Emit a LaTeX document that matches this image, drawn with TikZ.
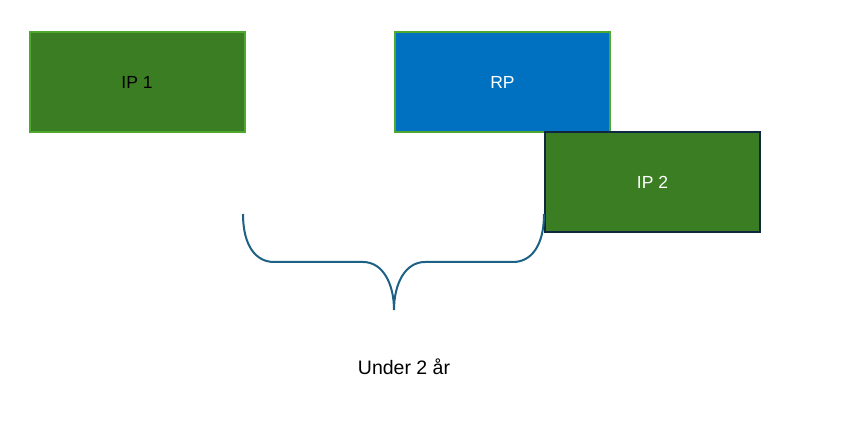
\documentclass[tikz,border=0pt]{standalone}
\usepackage{fontspec}
\setmainfont{Liberation Sans}
\definecolor{boxgreen}{HTML}{3B7D23}
\definecolor{edgegreen}{HTML}{4EA72E}
\definecolor{rpblue}{HTML}{0070C0}
\definecolor{navy}{HTML}{0E2841}
\definecolor{bracecol}{HTML}{1D6184}
\tikzset{
  boxbase/.style={rectangle, minimum width=215pt, minimum height=100pt, inner sep=0pt, line width=2pt, font=\fontsize{17.5}{20}\selectfont},
  ipone/.style={boxbase, fill=boxgreen, draw=edgegreen, text=black},
  rpbox/.style={boxbase, fill=rpblue, draw=edgegreen, text=white},
  iptwo/.style={boxbase, fill=boxgreen, draw=navy, text=white},
  bracestyle/.style={draw=bracecol, line width=2pt},
  lbl/.style={font=\fontsize{19.5}{22}\selectfont, text=black}
}
\begin{document}
\begin{tikzpicture}[x=1pt,y=-1pt]
\useasboundingbox (0,0) rectangle (843,427);
\node[ipone] (ip1) at (137,82) {IP 1};
\node[rpbox] (rp) at (502.5,82) {RP};
\node[iptwo] (ip2) at (652.5,182.5) {IP 2};
\coordinate (bl) at (243,214);
\coordinate (br) at (544,214);
\coordinate (tip) at (394,310);
\draw[bracestyle] (bl) .. controls (243,246) and (256,262) .. (274,262) -- (363,262)
  .. controls (383,262) and (394,284) .. (tip)
  .. controls (394,284) and (405,262) .. (425,262) -- (513,262)
  .. controls (531,262) and (544,246) .. (br);
\node[lbl] (under) at (404,367) {Under 2 år};
\end{tikzpicture}
\end{document}
